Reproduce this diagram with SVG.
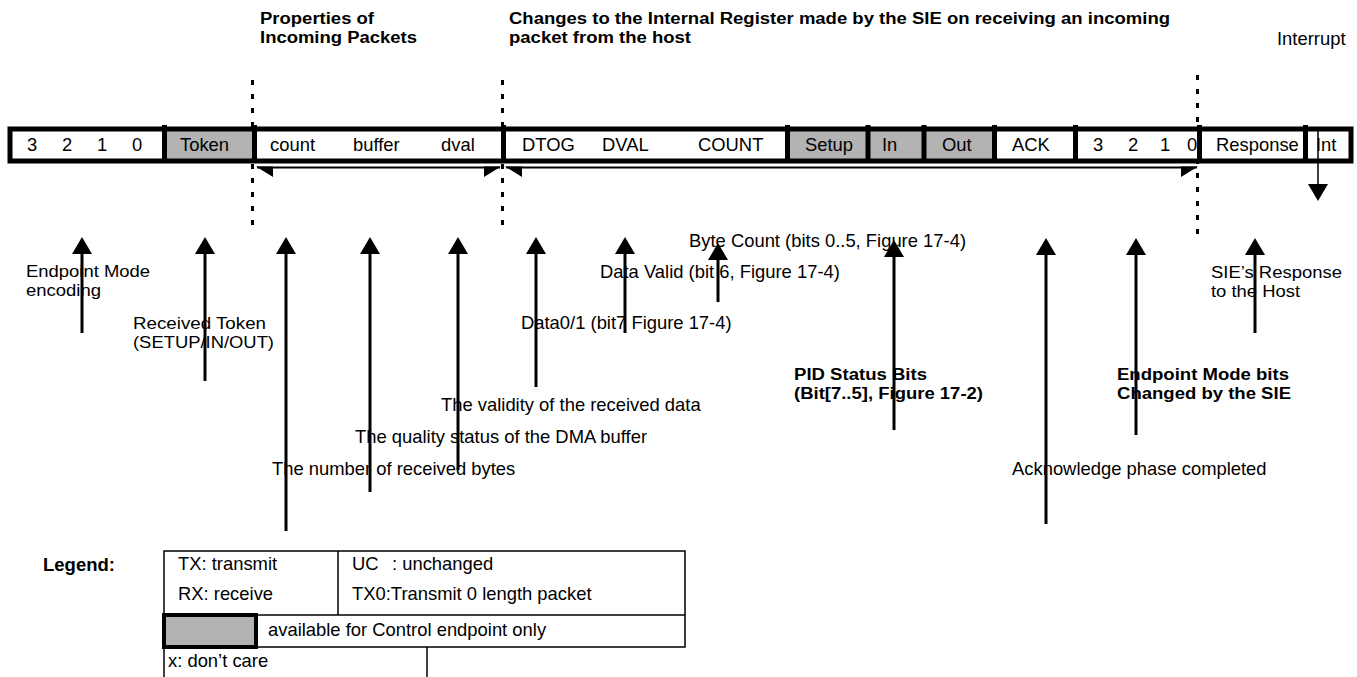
<svg xmlns="http://www.w3.org/2000/svg" width="1357" height="677" viewBox="0 0 1357 677">
<defs>
<style>
.t{font-family:"Liberation Sans",Arial,Helvetica,sans-serif;font-size:18.4px;fill:#000}
.b{font-weight:bold;font-size:18.5px}
.m{font-size:17.2px}
.gray{fill:#b3b3b3}
.dv{stroke:#000;stroke-width:5}
.dash{stroke:#000;stroke-width:3;stroke-dasharray:5 9;fill:none}
.up{stroke:#000;stroke-width:3;fill:none;marker-end:url(#ah)}
.span{stroke:#000;stroke-width:2;fill:none}
.wedge{fill:#000}
.tbl{stroke:#000;stroke-width:1.5;fill:none}
</style>
<marker id="ah" viewBox="0 0 17 20" refX="12" refY="10" markerWidth="17" markerHeight="20" markerUnits="userSpaceOnUse" orient="auto"><path d="M0,0 L17,10 L0,20 Z" fill="#000"/></marker>
</defs>
<rect width="1357" height="677" fill="#fff"/>

<g id="titles">
<text class="t b m" x="260" y="24" textLength="114" lengthAdjust="spacingAndGlyphs">Properties of</text>
<text class="t b m" x="260" y="43.4" textLength="157" lengthAdjust="spacingAndGlyphs">Incoming Packets</text>
<text class="t b m" x="509" y="24" textLength="661" lengthAdjust="spacingAndGlyphs">Changes to the Internal Register made by the SIE on receiving an incoming</text>
<text class="t b m" x="509" y="43.4" textLength="182" lengthAdjust="spacingAndGlyphs">packet from the host</text>
<text class="t" x="1277" y="45">Interrupt</text>
</g>

<g id="connectors">
<line class="dash" x1="252.5" y1="80" x2="252.5" y2="232"/>
<line class="dash" x1="502.5" y1="80" x2="502.5" y2="232"/>
<line class="dash" x1="1197.5" y1="75" x2="1197.5" y2="238"/>
<line class="span" x1="257" y1="167.5" x2="500" y2="167.5"/>
<polygon class="wedge" points="256,166.5 273,166.5 273,177"/>
<polygon class="wedge" points="501,166.5 484,166.5 484,177"/>
<line class="span" x1="506" y1="167.5" x2="1197" y2="167.5"/>
<polygon class="wedge" points="505,166.5 522,166.5 522,177"/>
<polygon class="wedge" points="1198,166.5 1181,166.5 1181,177"/>
<line x1="1318" y1="131" x2="1318" y2="196" stroke="#000" stroke-width="1.5" marker-end="url(#ah)"/>
<line class="up" x1="82" y1="333" x2="82" y2="242"/>
<line class="up" x1="205" y1="381" x2="205" y2="242"/>
<line class="up" x1="286" y1="531" x2="286" y2="242"/>
<line class="up" x1="370" y1="492" x2="370" y2="242"/>
<line class="up" x1="458" y1="470" x2="458" y2="242"/>
<line class="up" x1="536" y1="387" x2="536" y2="242"/>
<line class="up" x1="625" y1="333" x2="625" y2="242"/>
<line class="up" x1="718" y1="302" x2="718" y2="248"/>
<line class="up" x1="894" y1="430" x2="894" y2="245"/>
<line class="up" x1="1046" y1="524" x2="1046" y2="243"/>
<line class="up" x1="1136" y1="435" x2="1136" y2="243"/>
<line class="up" x1="1255" y1="333" x2="1255" y2="243"/>
</g>

<g id="register">
<rect x="10" y="129" width="1341" height="32" fill="#fff"/>
<rect class="gray" x="164.5" y="129" width="90" height="32"/>
<rect class="gray" x="787.5" y="129" width="80.5" height="32"/>
<rect class="gray" x="868" y="129" width="56" height="32"/>
<rect class="gray" x="924" y="129" width="70.5" height="32"/>
<g id="cell-mode-in"><text class="t" x="27" y="151">3</text><text class="t" x="62" y="151">2</text><text class="t" x="97" y="151">1</text><text class="t" x="132" y="151">0</text></g>
<g id="cell-token"><text class="t" x="180" y="151">Token</text></g>
<g id="cell-props"><text class="t" x="270" y="151">count</text><text class="t" x="353" y="151">buffer</text><text class="t" x="441" y="151">dval</text></g>
<g id="cell-changes"><text class="t" x="522" y="151">DTOG</text><text class="t" x="602" y="151">DVAL</text><text class="t" x="698" y="151">COUNT</text></g>
<g id="cell-setup"><text class="t" x="805" y="151">Setup</text></g>
<g id="cell-in"><text class="t" x="882" y="151">In</text></g>
<g id="cell-out"><text class="t" x="942" y="151">Out</text></g>
<g id="cell-ack"><text class="t" x="1012" y="151">ACK</text></g>
<g id="cell-mode-out"><text class="t" x="1093" y="151">3</text><text class="t" x="1128" y="151">2</text><text class="t" x="1160" y="151">1</text><text class="t" x="1187" y="151">0</text></g>
<g id="cell-response"><text class="t" x="1216" y="151">Response</text></g>
<g id="cell-int"><text class="t" x="1316" y="151">Int</text></g>
<line class="dv" x1="164.5" y1="125" x2="164.5" y2="163"/>
<line class="dv" x1="254.5" y1="125" x2="254.5" y2="163"/>
<line class="dv" x1="503.5" y1="125" x2="503.5" y2="163"/>
<line class="dv" x1="787.5" y1="125" x2="787.5" y2="163"/>
<line class="dv" x1="868" y1="125" x2="868" y2="163"/>
<line class="dv" x1="924" y1="125" x2="924" y2="163"/>
<line class="dv" x1="994.5" y1="125" x2="994.5" y2="163"/>
<line class="dv" x1="1075.5" y1="125" x2="1075.5" y2="163"/>
<line class="dv" x1="1199.5" y1="125" x2="1199.5" y2="163"/>
<line class="dv" x1="1305.5" y1="125" x2="1305.5" y2="163"/>
<rect x="10" y="129" width="1341" height="32" fill="none" stroke="#000" stroke-width="5"/>
<line x1="1318" y1="131" x2="1318" y2="159" stroke="#000" stroke-width="1.5"/>
</g>

<g id="labels">
<g id="lbl-mode"><text class="t m" x="26" y="277" textLength="124" lengthAdjust="spacingAndGlyphs">Endpoint Mode</text><text class="t m" x="26" y="296.4" textLength="75" lengthAdjust="spacingAndGlyphs">encoding</text></g>
<g id="lbl-token"><text class="t m" x="133" y="329" textLength="133" lengthAdjust="spacingAndGlyphs">Received Token</text><text class="t m" x="133" y="348.4" textLength="141" lengthAdjust="spacingAndGlyphs">(SETUP/IN/OUT)</text></g>
<g id="lbl-validity"><text class="t" x="441" y="411">The validity of the received data</text></g>
<g id="lbl-quality"><text class="t" x="355" y="443">The quality status of the DMA buffer</text></g>
<g id="lbl-number"><text class="t" x="272" y="475">The number of received bytes</text></g>
<g id="lbl-data01"><text class="t" x="521" y="329">Data0/1 (bit7 Figure 17-4)</text></g>
<g id="lbl-datavalid"><text class="t" x="600" y="278">Data Valid (bit 6, Figure 17-4)</text></g>
<g id="lbl-bytecount"><text class="t" x="689" y="247">Byte Count (bits 0..5, Figure 17-4)</text></g>
<g id="lbl-pid"><text class="t b m" x="794" y="380" textLength="133" lengthAdjust="spacingAndGlyphs">PID Status Bits</text><text class="t b m" x="794" y="399.4" textLength="189" lengthAdjust="spacingAndGlyphs">(Bit[7..5], Figure 17-2)</text></g>
<g id="lbl-modebits"><text class="t b m" x="1117" y="380" textLength="172" lengthAdjust="spacingAndGlyphs">Endpoint Mode bits</text><text class="t b m" x="1117" y="399.4" textLength="174" lengthAdjust="spacingAndGlyphs">Changed by the SIE</text></g>
<g id="lbl-response"><text class="t m" x="1211" y="278" textLength="131" lengthAdjust="spacingAndGlyphs">SIE’s Response</text><text class="t m" x="1211" y="297.4" textLength="89" lengthAdjust="spacingAndGlyphs">to the Host</text></g>
<g id="lbl-ack"><text class="t" x="1012" y="475">Acknowledge phase completed</text></g>
</g>

<g id="legend">
<text class="t b" x="43" y="571">Legend:</text>
<polyline class="tbl" points="164,677 164,551 685,551 685,647 164,647"/>
<line class="tbl" x1="164" y1="615" x2="685" y2="615"/>
<line class="tbl" x1="338" y1="551" x2="338" y2="615"/>
<line class="tbl" x1="427" y1="647" x2="427" y2="677"/>
<rect x="164" y="615" width="92" height="32" fill="#b3b3b3" stroke="#000" stroke-width="4"/>
<text class="t" x="178" y="570">TX: transmit</text>
<text class="t" x="178" y="600">RX: receive</text>
<text class="t" x="352" y="570">UC</text>
<text class="t" x="392" y="570">: unchanged</text>
<text class="t" x="352" y="600">TX0:Transmit 0 length packet</text>
<text class="t" x="268" y="636">available for Control endpoint only</text>
<text class="t" x="168" y="667">x: don’t care</text>
</g>
</svg>
